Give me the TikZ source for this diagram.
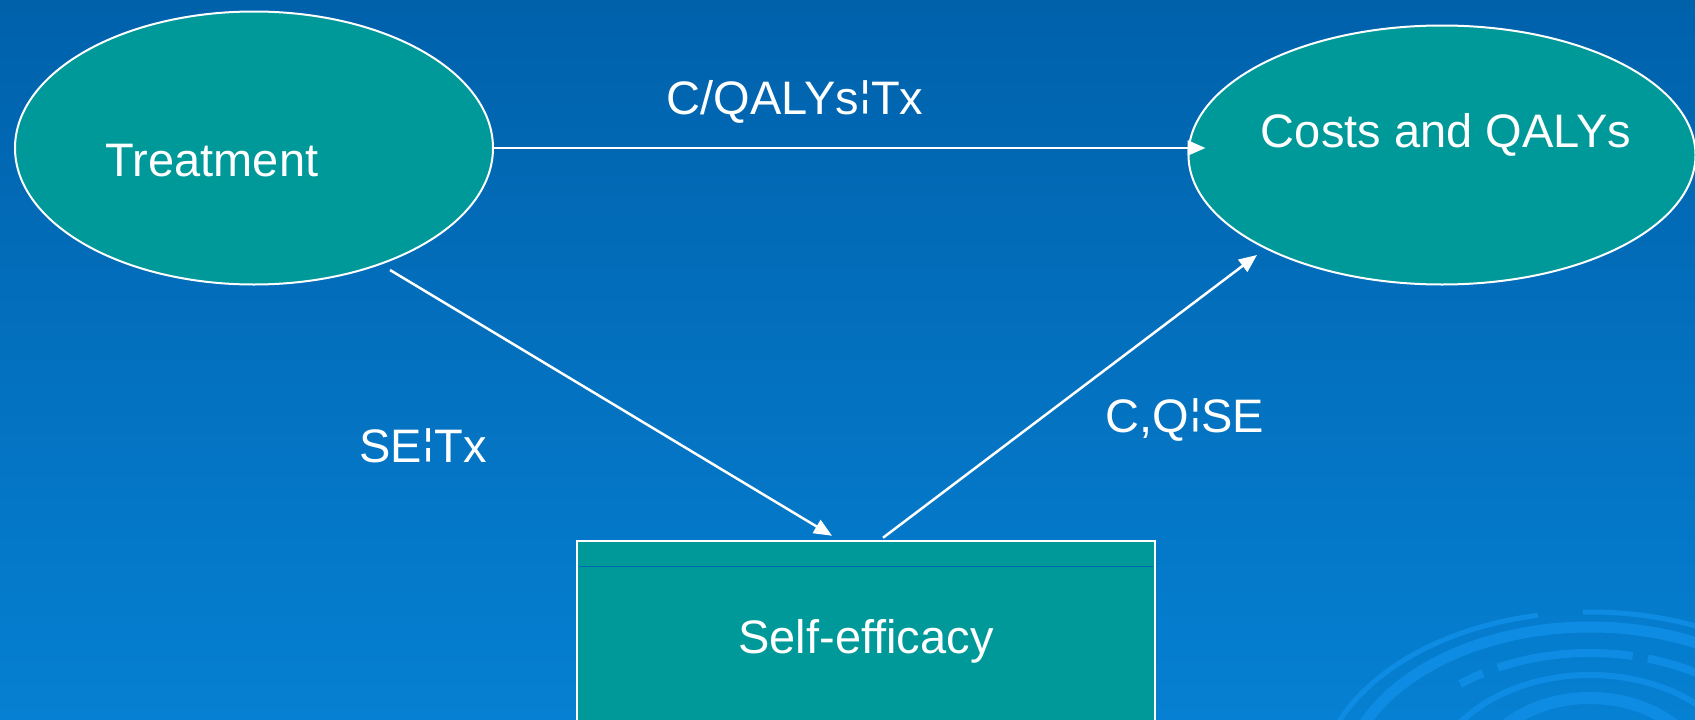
\documentclass[tikz,border=0pt]{standalone}
\usepackage{fontspec}
\usepackage{graphicx}
\setmainfont{Liberation Sans}
\usetikzlibrary{shapes.geometric,arrows.meta,calc}
\definecolor{bgtop}{RGB}{0,97,171}
\definecolor{bgmid}{RGB}{0,106,182}
\definecolor{bgbot}{RGB}{6,128,210}
\definecolor{nodeteal}{RGB}{0,153,153}
\definecolor{ringblue}{RGB}{14,140,228}
\definecolor{lineblue}{RGB}{0,102,179}
\newcommand{\bbar}{\raisebox{0.16em}{\scalebox{1}[0.76]{¦}}}
\begin{document}
\begin{tikzpicture}[x=1pt,y=-1pt,
  every node/.style={font=\fontsize{47}{56}\selectfont, text=white},
  ell/.style={ellipse, draw=white, line width=2pt, fill=nodeteal, inner sep=0pt},
  box/.style={rectangle, draw=white, line width=2.5pt, fill=nodeteal, inner sep=0pt},
  arr/.style={draw=white, line width=2.5pt, -{Triangle[length=18pt,width=15pt]}},
  ring/.style={draw=ringblue, line cap=butt}]
\useasboundingbox (0,0) rectangle (1695,720);
\begin{scope}
\clip (0,0) rectangle (1695,720);
\shade[top color=bgtop, middle color=bgmid, bottom color=bgbot] (0,0) rectangle (1695,720);
% decorative rings
\draw[ring, line width=5pt] (1590,790) ++(190:272 and 178) arc[start angle=190,end angle=259,x radius=272,y radius=178];
\draw[ring, line width=5pt] (1590,790) ++(268.5:272 and 178) arc[start angle=268.5,end angle=360,x radius=272,y radius=178];
\draw[ring, line width=11pt] (1590,790) ++(185:247 and 163) arc[start angle=185,end angle=360,x radius=247,y radius=163];
\draw[ring, line width=8pt] (1590,790) ++(230.7:205 and 137) arc[start angle=230.7,end angle=238.5,x radius=205,y radius=137];
\draw[ring, line width=8pt] (1590,790) ++(243.3:205 and 137) arc[start angle=243.3,end angle=282,x radius=205,y radius=137];
\draw[ring, line width=8pt] (1590,790) ++(286.4:205 and 137) arc[start angle=286.4,end angle=330,x radius=205,y radius=137];
\draw[ring, line width=6pt] (1590,790) ++(195:180 and 125) arc[start angle=195,end angle=212,x radius=180,y radius=125];
\draw[ring, line width=6pt] (1590,790) ++(190:160 and 115) arc[start angle=190,end angle=322,x radius=160,y radius=115];
\draw[ring, line width=6pt] (1590,790) ++(328:160 and 115) arc[start angle=328,end angle=360,x radius=160,y radius=115];
\draw[ring, line width=12pt] (1590,790) ++(185:119 and 92) arc[start angle=185,end angle=360,x radius=119,y radius=92];
% shapes
\node[ell, minimum width=478pt, minimum height=273pt] (treat) at (254,148) {};
\node[ell, minimum width=507pt, minimum height=259pt] (costs) at (1442,155) {};
\node[box, minimum width=578pt, minimum height=220pt] (self) at (866,651) {};
\draw[lineblue, line width=1pt] ($(self.north west)+(3,27)$) -- ($(self.north east)+(-3,27)$);
% texts
\node[anchor=base] (treatT) at (212,176) {Treatment};
\node[anchor=base] (costsT) at (1446,147) {Costs and QALYs};
\node[anchor=base] (selfT) at (866,653) {Self-efficacy};
\node[anchor=base] (l1) at (795,114) {C/QALYs\bbar Tx};
\node[anchor=base] (l2) at (423,462) {SE\bbar Tx};
\node[anchor=base] (l3) at (1185,432) {C,Q\bbar SE};
% connectors
\draw[arr, shorten >=-18pt] (treat.east) -- (treat.east -| costs.west);
\draw[arr] ([shift={(136,122)}]treat.center) -- ([shift={(-34,-4)}]self.north);
\draw[arr] ([shift={(17,-2)}]self.north) -- ([shift={(-185,100)}]costs.center);
\end{scope}
\end{tikzpicture}
\end{document}
